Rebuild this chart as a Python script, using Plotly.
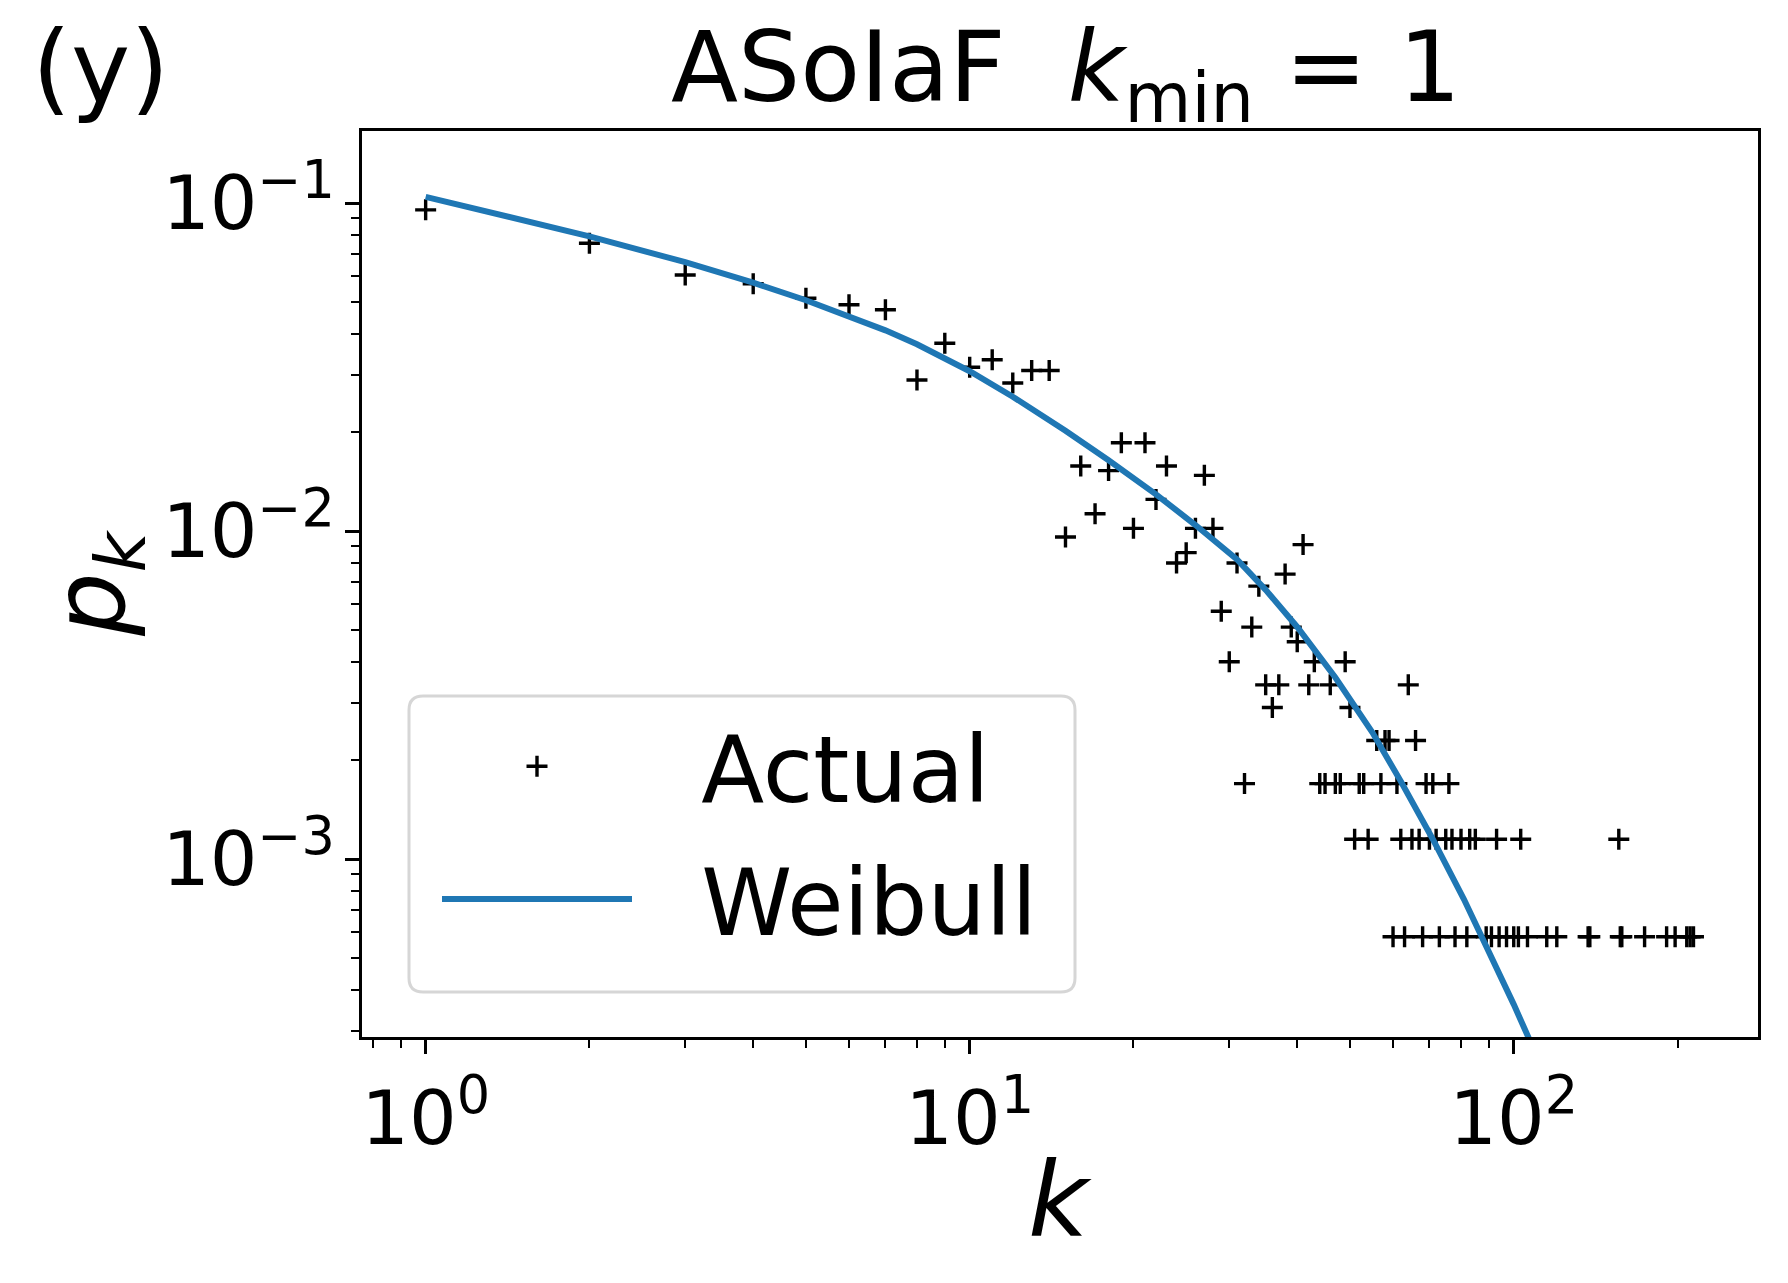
import plotly.graph_objects as go

# degree k and empirical p_k (ASoIaF network, kmin = 1)
k_actual = [1, 2, 3, 4, 5, 6, 7, 8, 9, 10, 11, 12, 13, 14, 15, 16, 17, 18, 19, 20,
            21, 22, 23, 24, 25, 26, 27, 28, 29, 30, 31, 32, 33, 34, 35, 36, 37, 38, 39, 40,
            41, 42, 43, 44, 45, 46, 47, 48, 49, 50, 51, 52, 53, 54, 56, 57, 58, 59, 60, 61,
            62, 63, 64, 65, 66, 67, 68, 69, 70, 71, 72, 73, 75, 76, 77, 78, 80, 82, 83, 85,
            89, 91, 93, 94, 97, 100, 102, 103, 106, 115, 120, 137, 138, 156, 157, 158, 174, 191, 198, 208,
            211, 214]
pk_actual = [0.0954, 0.0755, 0.0604, 0.0568, 0.0513, 0.0490, 0.0473, 0.0289, 0.0374, 0.0316,
             0.0333, 0.0283, 0.0309, 0.0309, 0.0096, 0.0158, 0.0113, 0.0153, 0.0186, 0.0102,
             0.0186, 0.0125, 0.0158, 0.0080, 0.0086, 0.0102, 0.0148, 0.0102, 0.0057, 0.0040,
             0.0080, 0.0017, 0.0051, 0.0068, 0.0034, 0.0029, 0.0034, 0.0074, 0.0051, 0.0046,
             0.0091, 0.0034, 0.0040, 0.0017, 0.0017, 0.0034, 0.0017, 0.0017, 0.0040, 0.0029,
             0.00115, 0.0017, 0.0017, 0.00115, 0.0023, 0.0017, 0.0023, 0.0023, 0.00058, 0.0017,
             0.00115, 0.00058, 0.0034, 0.00115, 0.0023, 0.00115, 0.00058, 0.0017, 0.00115, 0.0017,
             0.00115, 0.00058, 0.00115, 0.0017, 0.00115, 0.00058, 0.00115, 0.00058, 0.00115, 0.00115,
             0.00058, 0.00058, 0.00115, 0.00058, 0.00058, 0.00058, 0.00058, 0.00115, 0.00058, 0.00058,
             0.00058, 0.00058, 0.00058, 0.00115, 0.00058, 0.00058, 0.00058, 0.00058, 0.00058, 0.00058,
             0.00058, 0.00058]

# fitted Weibull curve
k_weibull = [1, 2, 3, 4, 5, 6, 7, 8, 9, 10, 12, 15, 18, 22, 26, 31, 35, 40, 47, 50,
             55, 62, 71, 81, 90, 100, 105, 110]
pk_weibull = [0.1045, 0.07925, 0.06607, 0.05722, 0.05058, 0.04533, 0.04095, 0.03715, 0.03377, 0.03074,
              0.02570, 0.02025, 0.01645, 0.01295, 0.01044, 0.00820, 0.006625, 0.005105, 0.003581, 0.003087,
              0.002432, 0.001728, 0.001151, 0.000755, 0.000528, 0.000361, 0.000301, 0.000253]

x_major = [1, 10, 100]
x_labels = ["10<sup>0</sup>", "10<sup>1</sup>", "10<sup>2</sup>"]
y_major = [0.1, 0.01, 0.001]
y_labels = ["10<sup>\u22121</sup>", "10<sup>\u22122</sup>", "10<sup>\u22123</sup>"]

x_minor = [0.8, 0.9] + [m * d for d in (1, 10) for m in range(2, 10)] + [200]
y_minor = [m * d for d in (1e-4, 1e-3, 1e-2) for m in range(2, 10)]
y_minor = [v for v in y_minor if v > 2.9e-4]

FONT = "DejaVu Sans"
# the page body adds an 8px margin, so the figure is drawn 8px smaller
OFF = 8
W, H = 1788 - OFF, 1283 - OFF
L, R, T, B = 362 - OFF, 30, 131 - OFF, 246
PW, PH = W - L - R, H - T - B


# screen pixel -> paper coordinate
def px_x(p):
    return (p - L - OFF) / PW


def px_y(p):
    return (H + OFF - B - p) / PH


fig = go.Figure()

fig.add_trace(go.Scatter(
    x=k_actual, y=pk_actual, mode="markers", name="\u2002\u2009Actual",
    legendgroup="a",
    marker=dict(symbol="cross-thin", size=15, color="black",
                line=dict(width=3.4, color="black"))))

fig.add_trace(go.Scatter(
    x=k_weibull, y=pk_weibull, mode="lines", name="\u2002\u2009Weibull",
    legendgroup="b",
    line=dict(color="#1f77b4", width=6)))

axis_common = dict(
    type="log", showgrid=False, zeroline=False,
    showline=True, linewidth=3, linecolor="black", mirror=True,
    ticks="outside", ticklen=14, tickwidth=3, tickcolor="black",
    tickmode="array",
    tickfont=dict(family=FONT, size=75, color="black"),
)

fig.update_xaxes(
    **axis_common,
    range=[-0.117, 2.449],
    tickvals=x_major, ticktext=x_labels,
    minor=dict(tickvals=x_minor, ticks="outside", ticklen=8, tickwidth=2.4,
               tickcolor="black", showgrid=False),
)
fig.update_yaxes(
    **axis_common,
    range=[-3.542, -0.780],
    tickvals=y_major, ticktext=y_labels,
    ticklabelstandoff=-5,
    minor=dict(tickvals=y_minor, ticks="outside", ticklen=8, tickwidth=2.4,
               tickcolor="black", showgrid=False),
    title=dict(text="<i>p</i><sub><i>k</i></sub>", font=dict(family=FONT, size=100, color="black"),
               standoff=0),
)

# legend frame with rounded corners (matplotlib style)
x0, x1 = px_x(409), px_x(1075)
y0, y1 = px_y(992), px_y(696)
rx, ry = 14 / PW, 14 / PH
path = (f"M{x0 + rx},{y0} L{x1 - rx},{y0} Q{x1},{y0} {x1},{y0 + ry} "
        f"L{x1},{y1 - ry} Q{x1},{y1} {x1 - rx},{y1} L{x0 + rx},{y1} "
        f"Q{x0},{y1} {x0},{y1 - ry} L{x0},{y0 + ry} Q{x0},{y0} {x0 + rx},{y0} Z")
fig.add_shape(type="path", path=path, xref="paper", yref="paper",
              line=dict(color="#d6d6d6", width=3), fillcolor="rgba(255,255,255,0.8)",
              layer="above")

fig.add_annotation(text="ASoIaF&nbsp;&nbsp;<i>k</i><sub>min</sub> = 1",
                   xref="paper", yref="paper", x=px_x(1066), y=px_y(8),
                   xanchor="center", yanchor="top", showarrow=False,
                   font=dict(family=FONT, size=98, color="black"))
fig.add_annotation(text="(y)", xref="paper", yref="paper", x=px_x(30), y=px_y(67),
                   xanchor="left", yanchor="middle", showarrow=False,
                   font=dict(family=FONT, size=100, color="black"))
# x axis label
fig.add_annotation(text="<i>k</i>", xref="paper", yref="paper", x=0.5, y=px_y(1200),
                   xanchor="center", yanchor="middle", showarrow=False,
                   font=dict(family=FONT, size=104, color="black"))

fig.update_layout(
    width=W, height=H,
    margin=dict(l=L, r=R, t=T, b=B, autoexpand=False),
    plot_bgcolor="white", paper_bgcolor="white",
    showlegend=True,
    legend=dict(
        x=px_x(437), y=px_y(700), xanchor="left", yanchor="top",
        bgcolor="rgba(0,0,0,0)", borderwidth=0,
        font=dict(family=FONT, size=92, color="black"),
        itemwidth=190, traceorder="grouped", tracegroupgap=10,
    ),
)

fig.write_html("out.html")
